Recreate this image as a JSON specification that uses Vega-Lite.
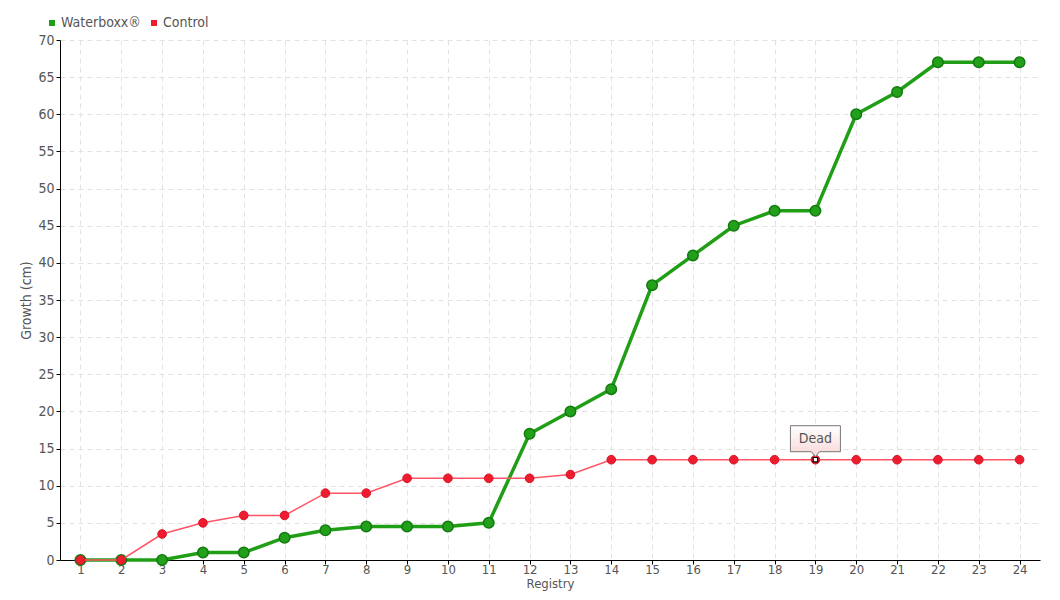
{
  "$schema": "https://vega.github.io/schema/vega-lite/v6.json",
  "width": 980,
  "height": 520,
  "autosize": {"type": "none"},
  "padding": {"left": 60, "top": 40, "right": 20, "bottom": 40},
  "background": "white",
  "config": {
    "font": "DejaVu Sans Condensed, sans-serif",
    "view": {"stroke": null},
    "axis": {
      "labelFont": "DejaVu Sans Condensed, sans-serif",
      "titleFont": "DejaVu Sans Condensed, sans-serif",
      "labelColor": "#555555",
      "titleColor": "#555555",
      "labelFontSize": 14,
      "titleFontSize": 14,
      "titleFontWeight": "normal",
      "domainColor": "#000000",
      "tickColor": "#000000",
      "gridColor": "#e2e2e2",
      "gridDash": [5, 4],
      "gridWidth": 1
    }
  },
  "datasets": {
    "growth": [
      {"registry": 1, "series": "Waterboxx®", "value": 0},
      {"registry": 2, "series": "Waterboxx®", "value": 0},
      {"registry": 3, "series": "Waterboxx®", "value": 0},
      {"registry": 4, "series": "Waterboxx®", "value": 1},
      {"registry": 5, "series": "Waterboxx®", "value": 1},
      {"registry": 6, "series": "Waterboxx®", "value": 3},
      {"registry": 7, "series": "Waterboxx®", "value": 4},
      {"registry": 8, "series": "Waterboxx®", "value": 4.5},
      {"registry": 9, "series": "Waterboxx®", "value": 4.5},
      {"registry": 10, "series": "Waterboxx®", "value": 4.5},
      {"registry": 11, "series": "Waterboxx®", "value": 5},
      {"registry": 12, "series": "Waterboxx®", "value": 17},
      {"registry": 13, "series": "Waterboxx®", "value": 20},
      {"registry": 14, "series": "Waterboxx®", "value": 23},
      {"registry": 15, "series": "Waterboxx®", "value": 37},
      {"registry": 16, "series": "Waterboxx®", "value": 41},
      {"registry": 17, "series": "Waterboxx®", "value": 45},
      {"registry": 18, "series": "Waterboxx®", "value": 47},
      {"registry": 19, "series": "Waterboxx®", "value": 47},
      {"registry": 20, "series": "Waterboxx®", "value": 60},
      {"registry": 21, "series": "Waterboxx®", "value": 63},
      {"registry": 22, "series": "Waterboxx®", "value": 67},
      {"registry": 23, "series": "Waterboxx®", "value": 67},
      {"registry": 24, "series": "Waterboxx®", "value": 67},
      {"registry": 1, "series": "Control", "value": 0},
      {"registry": 2, "series": "Control", "value": 0},
      {"registry": 3, "series": "Control", "value": 3.5},
      {"registry": 4, "series": "Control", "value": 5},
      {"registry": 5, "series": "Control", "value": 6},
      {"registry": 6, "series": "Control", "value": 6},
      {"registry": 7, "series": "Control", "value": 9},
      {"registry": 8, "series": "Control", "value": 9},
      {"registry": 9, "series": "Control", "value": 11},
      {"registry": 10, "series": "Control", "value": 11},
      {"registry": 11, "series": "Control", "value": 11},
      {"registry": 12, "series": "Control", "value": 11},
      {"registry": 13, "series": "Control", "value": 11.5},
      {"registry": 14, "series": "Control", "value": 13.5},
      {"registry": 15, "series": "Control", "value": 13.5},
      {"registry": 16, "series": "Control", "value": 13.5},
      {"registry": 17, "series": "Control", "value": 13.5},
      {"registry": 18, "series": "Control", "value": 13.5},
      {"registry": 19, "series": "Control", "value": 13.5},
      {"registry": 20, "series": "Control", "value": 13.5},
      {"registry": 21, "series": "Control", "value": 13.5},
      {"registry": 22, "series": "Control", "value": 13.5},
      {"registry": 23, "series": "Control", "value": 13.5},
      {"registry": 24, "series": "Control", "value": 13.5}
    ],
    "note": [
      {"registry": 19, "value": 13.5, "label": "Dead"}
    ]
  },
  "encoding": {
    "x": {
      "field": "registry",
      "type": "ordinal",
      "scale": {"type": "point", "padding": 0.5},
      "axis": {
        "title": "Registry",
        "labelAngle": 0,
        "grid": true,
        "tickSize": 4,
        "labelFontSize": 13,
        "labelPadding": -1,
        "titlePadding": 1,
        "titleFontSize": 13,
        "domainWidth": 1
      }
    },
    "y": {
      "field": "value",
      "type": "quantitative",
      "scale": {"domain": [0, 70], "nice": false},
      "axis": {
        "title": "Growth (cm)",
        "values": [0, 5, 10, 15, 20, 25, 30, 35, 40, 45, 50, 55, 60, 65, 70],
        "grid": true,
        "tickSize": 4,
        "labelPadding": 2,
        "titlePadding": 4
      }
    }
  },
  "layer": [
    {
      "data": {"name": "growth"},
      "transform": [{"filter": "datum.series === 'Waterboxx®'"}],
      "mark": {"type": "line", "color": "#21a018", "strokeWidth": 3.5},
      "encoding": {
        "color": {
          "field": "series",
          "type": "nominal",
          "scale": {"domain": ["Waterboxx®", "Control"], "range": ["#1f9e16", "#ee1c2e"]},
          "legend": {
            "title": null,
            "orient": "none",
            "legendX": -15,
            "legendY": -24,
            "direction": "horizontal",
            "symbolType": "square",
            "symbolSize": 36,
            "symbolStrokeWidth": 0,
            "labelFontSize": 14,
            "labelColor": "#555555",
            "labelFont": "DejaVu Sans Condensed, sans-serif",
            "columnPadding": 6,
            "labelOffset": 2,
            "encode": {
              "symbols": {
                "update": {
                  "fill": {"scale": "color", "field": "value"},
                  "fillOpacity": {"value": 1},
                  "strokeWidth": {"value": 0}
                }
              }
            }
          }
        }
      }
    },
    {
      "data": {"name": "growth"},
      "transform": [{"filter": "datum.series === 'Waterboxx®'"}],
      "mark": {"type": "point", "filled": true, "fill": "#22a01a", "stroke": "#137a10", "strokeWidth": 1.5, "size": 110, "opacity": 1}
    },
    {
      "data": {"name": "growth"},
      "transform": [{"filter": "datum.series === 'Control'"}],
      "mark": {"type": "line", "color": "#ff5566", "strokeWidth": 1.5},
      "encoding": {}
    },
    {
      "data": {"name": "growth"},
      "transform": [{"filter": "datum.series === 'Control' && datum.registry !== 19"}],
      "mark": {"type": "point", "filled": true, "fill": "#ee1c2e", "stroke": "#d81526", "strokeWidth": 1, "size": 75, "opacity": 1}
    },
    {
      "data": {"name": "note"},
      "mark": {"type": "point", "filled": true, "fill": "#ee1c2e", "stroke": "#d81526", "strokeWidth": 1, "size": 75, "opacity": 1}
    },
    {
      "data": {"name": "note"},
      "mark": {"type": "point", "shape": "square", "filled": true, "fill": "#ffffff", "stroke": "#000000", "strokeWidth": 1.2, "size": 20, "opacity": 1}
    },
    {
      "data": {"name": "note"},
      "mark": {
        "type": "point",
        "shape": "M-25,-34 L25,-34 L25,-8 L4,-8 L0,-3 L-4,-8 L-25,-8 Z",
        "size": 4,
        "filled": true,
        "opacity": 1,
        "fill": {
          "gradient": "linear",
          "x1": 0, "y1": 0, "x2": 0, "y2": 1,
          "stops": [{"offset": 0, "color": "#ffffff"}, {"offset": 1, "color": "#f9d6d6"}]
        },
        "stroke": "#777777",
        "strokeWidth": 1
      }
    },
    {
      "data": {"name": "note"},
      "mark": {"type": "text", "dy": -21, "fontSize": 14, "color": "#555555", "font": "DejaVu Sans Condensed, sans-serif"},
      "encoding": {"text": {"field": "label"}}
    }
  ]
}
